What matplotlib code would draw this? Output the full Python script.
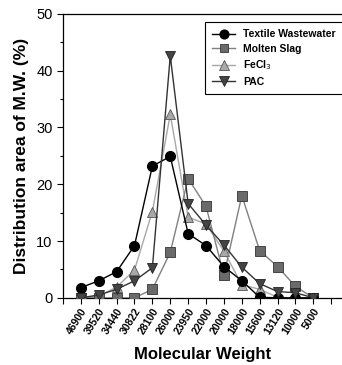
import matplotlib
matplotlib.use('Agg')
import matplotlib.pyplot as plt
from matplotlib.ticker import MultipleLocator

plt.rcParams['font.family'] = ['Liberation Sans', 'DejaVu Sans']

# Molecular weight categories (x axis)
mw_labels = ['46900', '39520', '34440', '30822', '28100', '26000', '23950',
             '22000', '20000', '18000', '15600', '13120', '10000', '5000']

textile = [1.8, 3.0, 4.6, 9.2, 23.2, 24.9, 11.3, 9.2, 5.5, 3.0, 0.1, 0.0, 0.0, 0.0]
molten_slag = [0.0, 0.0, 0.0, 0.0, 1.5, 8.0, 21.0, 16.1, 4.0, 18.0, 8.3, 5.5, 2.0, 0.0]
fecl3 = [0.0, 0.3, 1.9, 4.9, 15.2, 32.3, 14.2, 13.0, 8.2, 2.3, 1.5, 0.1, 0.0, 0.0]
pac = [0.0, 0.5, 1.5, 3.0, 5.3, 42.6, 16.6, 12.8, 9.3, 5.4, 2.5, 1.1, 0.9, 0.0]

x = list(range(1, len(mw_labels) + 1))

fig = plt.figure(figsize=(3.42, 3.65), dpi=100)
ax = fig.add_axes([0.184, 0.184, 0.816, 0.778])

ax.plot(x, textile, color='black', lw=1.0, marker='o', ms=7,
        mfc='black', mec='black', label='Textile Wastewater', zorder=4)
ax.plot(x, molten_slag, color='#808080', lw=1.0, marker='s', ms=7,
        mfc='#6a6a6a', mec='#333333', mew=0.6, label='Molten Slag', zorder=3)
ax.plot(x, fecl3, color='#a8a8a8', lw=1.0, marker='^', ms=7.5,
        mfc='#a8a8a8', mec='#555555', mew=0.6, label='FeCl$_3$', zorder=2)
ax.plot(x, pac, color='#333333', lw=1.0, marker='v', ms=7.5,
        mfc='#444444', mec='#222222', mew=0.6, label='PAC', zorder=5)

ax.set_xlim(0, 15.6)
ax.set_ylim(0, 50)
ax.set_xticks(range(0, 16))
ax.set_xticklabels([''] + mw_labels + [''], rotation=58, fontsize=7.5,
                   fontweight='bold', ha='right', rotation_mode='anchor')
ax.yaxis.set_major_locator(MultipleLocator(10))
ax.yaxis.set_minor_locator(MultipleLocator(5))
ax.tick_params(axis='y', which='major', labelsize=10.5, length=4, width=0.8)
ax.tick_params(axis='y', which='minor', length=2.5, width=0.8)
ax.tick_params(axis='x', length=4, width=0.8, pad=2)

ax.spines['right'].set_visible(False)
for s in ('left', 'top', 'bottom'):
    ax.spines[s].set_linewidth(0.9)

ax.set_xlabel('Molecular Weight', fontsize=12, fontweight='bold', labelpad=8)
ax.set_ylabel('Distribution area of M.W. (%)', fontsize=12.5, fontweight='bold', labelpad=5)

leg = ax.legend(loc='upper left', bbox_to_anchor=(0.49, 0.99),
                prop={'weight': 'bold', 'size': 7.5}, fancybox=False,
                edgecolor='black', framealpha=1, handlelength=2.2,
                borderpad=0.7, labelspacing=0.45, markerscale=0.9)
leg.get_frame().set_linewidth(0.8)

fig.savefig('out.png', dpi=100)
